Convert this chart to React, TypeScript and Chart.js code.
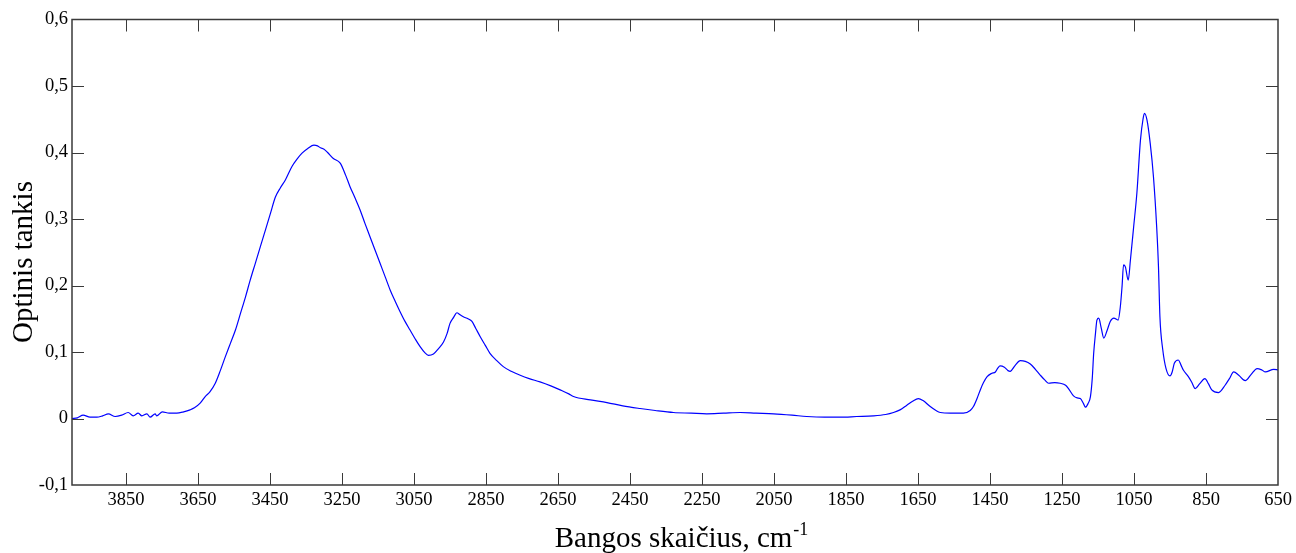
import React, { useEffect, useRef } from "react";
import { Chart, registerables } from "chart.js";

Chart.register(...registerables);

// Wavenumber (cm-1), descending
const wavenumbers = [
  4000, 3985, 3969, 3950, 3931, 3915, 3899, 3880, 3862, 3844, 3830, 3816, 3806, 3792, 3783, 3769, 3765, 3749, 3730, 3709,
  3690, 3672, 3660, 3644, 3630, 3617, 3602, 3588, 3574, 3560, 3546, 3532, 3518, 3505, 3491, 3477, 3463, 3449, 3435, 3421,
  3407, 3389, 3375, 3361, 3345, 3328, 3318, 3310, 3300, 3290, 3274, 3255, 3240, 3228, 3214, 3200, 3186, 3172, 3158, 3144,
  3130, 3116, 3102, 3089, 3075, 3061, 3047, 3033, 3020, 3010, 2996, 2982, 2968, 2958, 2950, 2940, 2931, 2922, 2913, 2900,
  2889, 2878, 2866, 2852, 2839, 2820, 2802, 2780, 2755, 2730, 2700, 2670, 2644, 2620, 2607, 2560, 2514, 2470, 2422, 2380,
  2329, 2280, 2237, 2190, 2144, 2100, 2051, 2000, 1959, 1910, 1866, 1820, 1774, 1740, 1718, 1700, 1681, 1665, 1649, 1636,
  1616, 1600, 1588, 1560, 1524, 1505, 1496, 1486, 1477, 1468, 1458, 1445, 1435, 1428, 1422, 1410, 1400, 1394, 1380, 1366,
  1352, 1338, 1324, 1310, 1298, 1287, 1270, 1255, 1240, 1232, 1218, 1208, 1199, 1190, 1185, 1178, 1171, 1166, 1162, 1157,
  1153, 1148, 1141, 1134, 1125, 1116, 1106, 1094, 1088, 1083, 1079, 1074, 1066, 1060, 1051, 1042, 1032, 1025, 1021, 1014,
  1005, 996, 987, 982, 978, 970, 961, 950, 944, 938, 927, 920, 913, 899, 890, 880, 868, 853, 843, 834,
  815, 797, 785, 773, 759, 741, 725, 708, 695, 685, 662, 650,
];

// Optical density
const absorbance = [
  0.000, 0.001, 0.005, 0.002, 0.002, 0.004, 0.007, 0.003, 0.005, 0.009, 0.004, 0.008, 0.004, 0.007, 0.002, 0.007, 0.004, 0.010, 0.008, 0.008,
  0.010, 0.013, 0.016, 0.023, 0.033, 0.040, 0.053, 0.072, 0.093, 0.113, 0.133, 0.158, 0.183, 0.208, 0.233, 0.258, 0.283, 0.308, 0.333, 0.347,
  0.359, 0.379, 0.390, 0.399, 0.406, 0.411, 0.410, 0.407, 0.405, 0.400, 0.391, 0.384, 0.366, 0.349, 0.332, 0.314, 0.293, 0.273, 0.253, 0.233,
  0.213, 0.193, 0.176, 0.161, 0.146, 0.133, 0.120, 0.108, 0.099, 0.095, 0.097, 0.105, 0.115, 0.128, 0.143, 0.152, 0.159, 0.156, 0.153, 0.150,
  0.146, 0.135, 0.123, 0.110, 0.098, 0.087, 0.078, 0.071, 0.065, 0.060, 0.055, 0.049, 0.043, 0.037, 0.033, 0.028, 0.024, 0.019, 0.015, 0.012,
  0.009, 0.008, 0.007, 0.008, 0.009, 0.008, 0.007, 0.005, 0.003, 0.002, 0.002, 0.003, 0.004, 0.006, 0.009, 0.013, 0.020, 0.026, 0.030, 0.027,
  0.018, 0.012, 0.009, 0.008, 0.008, 0.012, 0.018, 0.030, 0.043, 0.054, 0.063, 0.068, 0.070, 0.076, 0.079, 0.077, 0.072, 0.071, 0.080, 0.087,
  0.086, 0.082, 0.074, 0.065, 0.058, 0.053, 0.054, 0.053, 0.050, 0.045, 0.034, 0.031, 0.030, 0.022, 0.017, 0.022, 0.033, 0.060, 0.098, 0.128,
  0.148, 0.151, 0.136, 0.121, 0.132, 0.146, 0.151, 0.148, 0.168, 0.200, 0.231, 0.228, 0.208, 0.238, 0.288, 0.339, 0.419, 0.450, 0.459, 0.449,
  0.414, 0.364, 0.288, 0.228, 0.153, 0.103, 0.075, 0.064, 0.070, 0.083, 0.088, 0.081, 0.073, 0.063, 0.055, 0.045, 0.052, 0.060, 0.052, 0.043,
  0.039, 0.050, 0.060, 0.070, 0.065, 0.057, 0.066, 0.075, 0.073, 0.070, 0.074, 0.073,
];

const xTicks = [3850, 3650, 3450, 3250, 3050, 2850, 2650, 2450, 2250, 2050, 1850, 1650, 1450, 1250, 1050, 850, 650];
const xTickLabels = ["3850", "3650", "3450", "3250", "3050", "2850", "2650", "2450", "2250", "2050", "1850", "1650", "1450", "1250", "1050", "850", "650"];
const yTicks = [-0.1, 0, 0.1, 0.2, 0.3, 0.4, 0.5, 0.6];
const yTickLabels = ["-0,1", "0", "0,1", "0,2", "0,3", "0,4", "0,5", "0,6"];

const xTitle = "Bangos skaičius, cm";
const xTitleSup = "-1";
const yTitle = "Optinis tankis";

const FONT = "'Liberation Serif', 'Times New Roman', serif";

const framePlugin = {
  id: "frame",
  afterDraw(chart: any) {
    const { ctx, chartArea: a, scales } = chart;
    ctx.save();
    ctx.strokeStyle = "#3a3a3a";
    ctx.lineWidth = 1;
    const tl = 12;
    ctx.beginPath();
    for (const v of xTicks) {
      const px = Math.round(scales.x.getPixelForValue(v)) + 0.5;
      if (px <= a.left + 1 || px >= a.right - 1) continue;
      ctx.moveTo(px, a.bottom);
      ctx.lineTo(px, a.bottom - tl);
      ctx.moveTo(px, a.top);
      ctx.lineTo(px, a.top + tl);
    }
    for (const v of yTicks) {
      const py = Math.round(scales.y.getPixelForValue(v)) + 0.5;
      if (py <= a.top + 1 || py >= a.bottom - 1) continue;
      ctx.moveTo(a.left, py);
      ctx.lineTo(a.left + tl, py);
      ctx.moveTo(a.right, py);
      ctx.lineTo(a.right - tl, py);
    }
    ctx.stroke();
    ctx.lineWidth = 1.5;
    ctx.strokeRect(a.left, a.top, a.right - a.left, a.bottom - a.top);

    // axis titles
    ctx.fillStyle = "#000";
    ctx.textBaseline = "alphabetic";
    ctx.font = `29px ${FONT}`;
    const mainW = ctx.measureText(xTitle).width;
    ctx.font = `18px ${FONT}`;
    const supW = ctx.measureText(xTitleSup).width;
    const cx = (a.left + a.right) / 2 + 6;
    const startX = cx - (mainW + supW) / 2;
    ctx.font = `29px ${FONT}`;
    ctx.textAlign = "left";
    ctx.fillText(xTitle, startX, 547);
    ctx.font = `18px ${FONT}`;
    ctx.fillText(xTitleSup, startX + mainW + 1, 535);

    ctx.save();
    ctx.translate(32, 262);
    ctx.rotate(-Math.PI / 2);
    ctx.font = `29px ${FONT}`;
    ctx.textAlign = "center";
    ctx.fillText(yTitle, 0, 0);
    ctx.restore();
    ctx.restore();
  },
};

export default function App() {
  const ref = useRef<HTMLCanvasElement>(null);
  useEffect(() => {
    if (!ref.current) return;
    const points = wavenumbers.map((w, i) => ({ x: w, y: absorbance[i] }));
    const chart = new Chart(ref.current, {
      type: "line",
      data: {
        datasets: [
          {
            data: points,
            borderColor: "rgb(0,0,255)",
            borderWidth: 1.2,
            pointRadius: 0,
            cubicInterpolationMode: "monotone",
            fill: false,
          },
        ],
      },
      options: {
        responsive: false,
        animation: false,
        devicePixelRatio: 1,
        layout: { padding: { top: 19.5, right: 18, left: 0, bottom: 0 } },
        plugins: { legend: { display: false }, tooltip: { enabled: false }, title: { display: false } },
        scales: {
          x: {
            type: "linear",
            reverse: true,
            min: 650,
            max: 4000,
            afterBuildTicks: (scale: any) => {
              scale.ticks = xTicks.map((v) => ({ value: v }));
            },
            afterFit: (scale: any) => {
              scale.height = 68;
            },
            grid: { display: false, drawTicks: false },
            border: { display: false },
            ticks: {
              autoSkip: false,
              maxRotation: 0,
              padding: 4,
              color: "#000",
              font: { family: FONT, size: 18.5 },
              callback: (_v: any, i: number) => xTickLabels[i],
            },
          },
          y: {
            type: "linear",
            min: -0.1,
            max: 0.6,
            afterBuildTicks: (scale: any) => {
              scale.ticks = yTicks.map((v) => ({ value: v }));
            },
            afterFit: (scale: any) => {
              scale.width = 72;
            },
            grid: { display: false, drawTicks: false },
            border: { display: false },
            ticks: {
              autoSkip: false,
              padding: 4,
              color: "#000",
              font: { family: FONT, size: 18.5 },
              callback: (_v: any, i: number) => yTickLabels[i],
            },
          },
        },
      },
      plugins: [framePlugin],
    });
    return () => chart.destroy();
  }, []);
  return (
    <div style={{ position: "fixed", left: 0, top: 0, width: 1296, height: 553, background: "#fff" }}>
      <canvas ref={ref} width={1296} height={553} style={{ display: "block" }} />
    </div>
  );
}
